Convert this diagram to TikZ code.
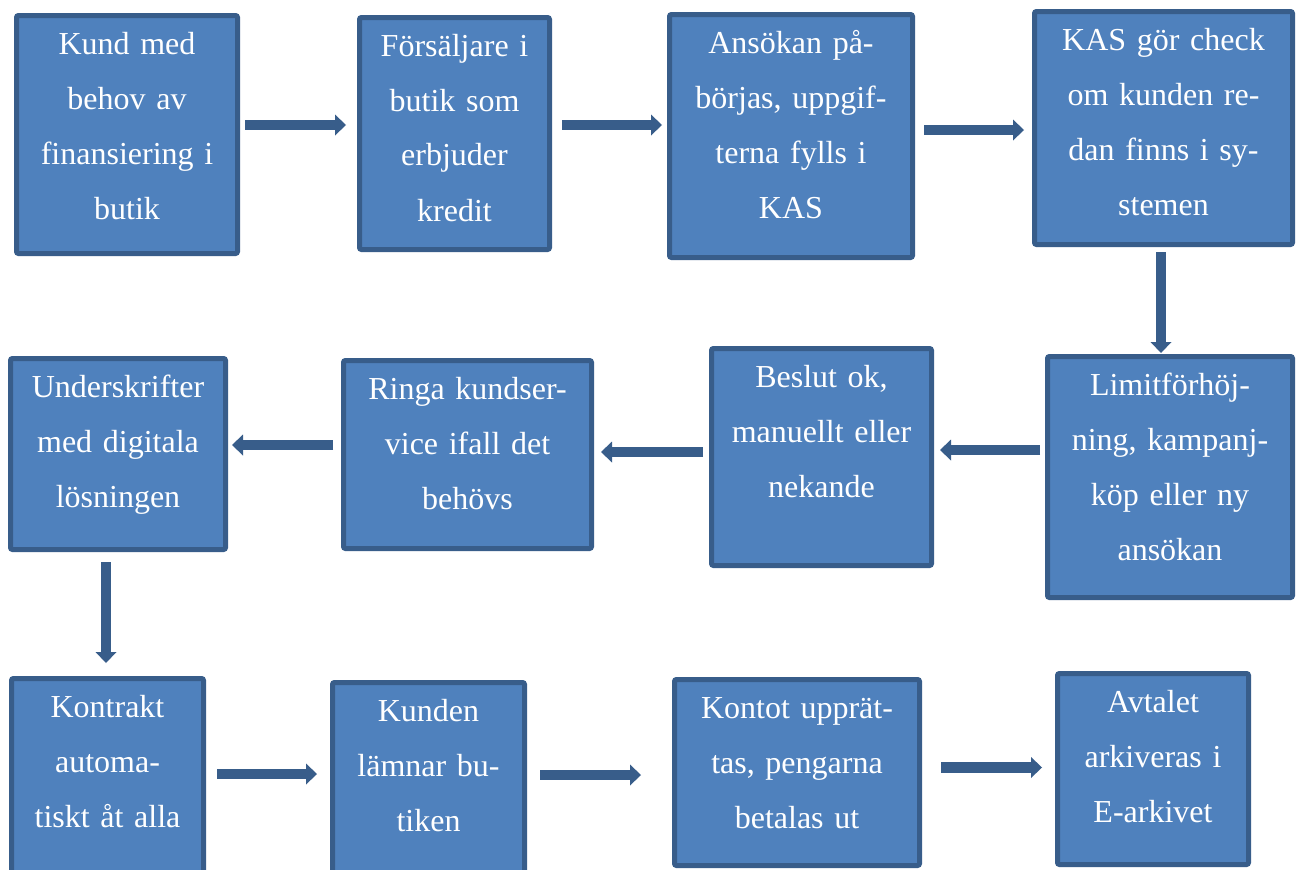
\documentclass[tikz,border=0pt]{standalone}
\usepackage{fontspec}
\setmainfont{Liberation Serif}
\usetikzlibrary{arrows.meta}
\definecolor{boxfill}{HTML}{4F81BD}
\definecolor{boxline}{HTML}{385D8A}
\begin{document}
\begin{tikzpicture}[x=1pt,y=-1pt,
  box/.style={draw=boxline, fill=boxfill, line width=5pt, rounded corners=2pt, inner sep=0pt},
  txt/.style={anchor=base, text=white, align=center, inner sep=0pt, font=\fontsize{32}{55}\selectfont},
  arr/.style={draw=boxline, line width=10.5pt, -{Triangle[width=21pt,length=11pt,line width=0pt]}}]
\useasboundingbox (0,0) rectangle (1304,870);
\fill[white] (0,0) rectangle (1304,870);
% boxes
\node[box, minimum width=221pt, minimum height=238pt] (b1) at (127,134.5) {};
\node[box, minimum width=190pt, minimum height=232pt] (b2) at (454.5,133.5) {};
\node[box, minimum width=243pt, minimum height=243pt] (b3) at (791,136) {};
\node[box, minimum width=258pt, minimum height=233pt] (b4) at (1163.5,128) {};
\node[box, minimum width=245pt, minimum height=241pt] (b5) at (1170,477) {};
\node[box, minimum width=220pt, minimum height=217pt] (b6) at (821.5,457) {};
\node[box, minimum width=248pt, minimum height=188pt] (b7) at (467.5,454.5) {};
\node[box, minimum width=215pt, minimum height=191pt] (b8) at (118,454) {};
\node[box, minimum width=192pt, minimum height=209pt] (b9) at (107.5,783) {};
\node[box, minimum width=192pt, minimum height=205pt] (b10) at (428.5,785) {};
\node[box, minimum width=245pt, minimum height=186pt] (b11) at (797,772.5) {};
\node[box, minimum width=191pt, minimum height=191pt] (b12) at (1153,769) {};
% texts
\node[txt, text width=216pt] (t1) at ([yshift=-41pt]b1.north) {Kund med\\behov av\\finansiering i\\butik};
\node[txt, text width=185pt] (t2) at ([yshift=-41pt]b2.north) {Försäljare i\\butik som\\erbjuder\\kredit};
\node[txt, text width=238pt] (t3) at ([yshift=-41pt]b3.north) {Ansökan på-\\börjas, uppgif-\\terna fylls i\\KAS};
\node[txt, text width=253pt] (t4) at ([yshift=-41pt]b4.north) {KAS gör check\\om kunden re-\\dan finns i sy-\\stemen};
\node[txt, text width=240pt] (t5) at ([yshift=-41pt]b5.north) {Limitförhöj-\\ning, kampanj-\\köp eller ny\\ansökan};
\node[txt, text width=215pt] (t6) at ([yshift=-41pt]b6.north) {Beslut ok,\\manuellt eller\\nekande};
\node[txt, text width=243pt] (t7) at ([yshift=-41pt]b7.north) {Ringa kundser-\\vice ifall det\\behövs};
\node[txt, text width=210pt] (t8) at ([yshift=-41pt]b8.north) {Underskrifter\\med digitala\\lösningen};
\node[txt, text width=187pt] (t9) at ([yshift=-41pt]b9.north) {Kontrakt\\automa-\\tiskt åt alla};
\node[txt, text width=187pt] (t10) at ([yshift=-41pt]b10.north) {Kunden\\lämnar bu-\\tiken};
\node[txt, text width=240pt] (t11) at ([yshift=-41pt]b11.north) {Kontot upprät-\\tas, pengarna\\betalas ut};
\node[txt, text width=186pt] (t12) at ([yshift=-41pt]b12.north) {Avtalet\\arkiveras i\\E-arkivet};
% arrows
\draw[arr, shorten <=5pt, shorten >=11pt] (b1.east |- 0,125) -- (b2.west |- 0,125);
\draw[arr, shorten <=10pt, shorten >=5pt] (b2.east |- 0,125) -- (b3.west |- 0,125);
\draw[arr, shorten <=9pt, shorten >=8pt] (b3.east |- 0,130) -- (b4.west |- 0,130);
\draw[arr, shorten <=5pt, shorten >=1pt] (b4.south -| 1161,0) -- (b5.north -| 1161,0);
\draw[arr, shorten <=5pt, shorten >=6pt] (b5.west |- 0,450) -- (b6.east |- 0,450);
\draw[arr, shorten <=6pt, shorten >=7pt] (b6.west |- 0,452) -- (b7.east |- 0,452);
\draw[arr, shorten <=8pt, shorten >=4pt] (b7.west |- 0,445) -- (b8.east |- 0,445);
\draw[arr, shorten <=10pt, shorten >=13pt] (b8.south -| 106,0) -- (b9.north -| 106,0);
\draw[arr, shorten <=11pt, shorten >=13pt] (b9.east |- 0,774) -- (b10.west |- 0,774);
\draw[arr, shorten <=13pt, shorten >=31pt] (b10.east |- 0,775) -- (b11.west |- 0,775);
\draw[arr, shorten <=19pt, shorten >=13pt] (b11.east |- 0,767.5) -- (b12.west |- 0,767.5);
\end{tikzpicture}
\end{document}
